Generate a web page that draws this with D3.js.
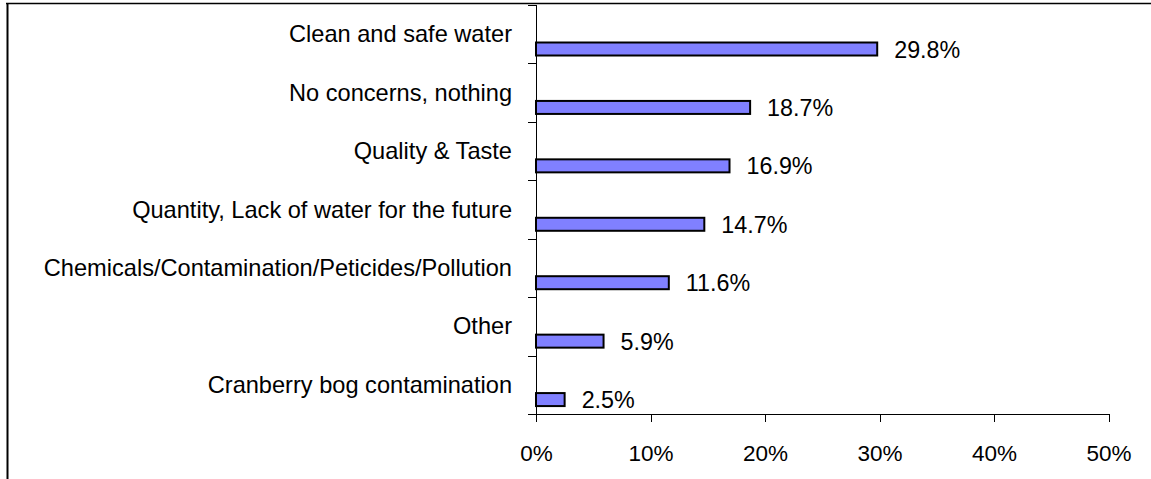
<!DOCTYPE html>
<html>
<head>
<meta charset="utf-8">
<script src="https://cdn.jsdelivr.net/npm/d3@7"></script>
<style>
  body { margin: 0; background: #fff; }
  svg { display: block; font-family: "Liberation Sans", Arial, sans-serif; }
  .axis path, .axis line { stroke: #000; shape-rendering: crispEdges; }
</style>
</head>
<body>
<svg id="chart"></svg>
<script>
var width = 1151,
    height = 479;

// data
var categories = [
  "Clean and safe water",
  "No concerns, nothing",
  "Quality & Taste",
  "Quantity, Lack of water for the future",
  "Chemicals/Contamination/Peticides/Pollution",
  "Other",
  "Cranberry bog contamination"
];
var values = [29.8, 18.7, 16.9, 14.7, 11.6, 5.9, 2.5];
var xTicks = [0, 10, 20, 30, 40, 50];

var plot = {left: 536, right: 1108.5, top: 5, bottom: 414};

var svg = d3.select("#chart")
    .attr("width", width)
    .attr("height", height);

svg.append("rect").attr("width", width).attr("height", height).attr("fill", "#fff");

// chart frame (only top and left edges are in view)
svg.append("line")
    .attr("x1", 6).attr("x2", width).attr("y1", 3.5).attr("y2", 3.5)
    .attr("stroke", "#000").attr("stroke-width", 1.5);
svg.append("line")
    .attr("x1", 7.5).attr("x2", 7.5).attr("y1", 3).attr("y2", height)
    .attr("stroke", "#000").attr("stroke-width", 2);

var x = d3.scaleLinear()
    .domain([0, 50])
    .range([plot.left, plot.right]);

var y = d3.scaleBand()
    .domain(categories)
    .range([plot.top, plot.bottom]);

var bw = y.bandwidth();

// y axis with ticks on the band boundaries
var yAxisG = svg.append("g").attr("class", "axis");
yAxisG.append("line")
    .attr("x1", plot.left).attr("x2", plot.left)
    .attr("y1", plot.top).attr("y2", plot.bottom + 8);
yAxisG.selectAll(".ytick")
    .data(d3.range(categories.length + 1))
    .enter().append("line")
    .attr("class", "ytick")
    .attr("x1", plot.left - 8).attr("x2", plot.left)
    .attr("y1", function(i) { return Math.round(plot.top + i * bw) + 0.5; })
    .attr("y2", function(i) { return Math.round(plot.top + i * bw) + 0.5; });

// x axis
var xAxis = d3.axisBottom(x)
    .tickValues(xTicks)
    .tickSize(8)
    .tickFormat(function(d) { return d + "%"; });

var xAxisG = svg.append("g")
    .attr("class", "axis")
    .attr("transform", "translate(0," + plot.bottom + ")")
    .call(xAxis);
xAxisG.select(".domain").attr("d", "M" + plot.left + ",0.5H" + plot.right);
xAxisG.selectAll(".tick line").attr("stroke", "#000");
xAxisG.selectAll(".tick text")
    .attr("y", 47)
    .attr("dy", null)
    .attr("fill", "#000")
    .style("font-size", "22.5px")
    .style("font-family", "'Liberation Sans', Arial, sans-serif");

// category labels
svg.selectAll(".cat")
    .data(categories)
    .enter().append("text")
    .attr("class", "cat")
    .attr("x", plot.left - 24)
    .attr("y", function(d) { return y(d) + bw / 2 + 8; })
    .attr("text-anchor", "end")
    .style("font-size", "23.6px")
    .text(function(d) { return d; });

// bars
svg.selectAll(".bar")
    .data(values)
    .enter().append("rect")
    .attr("class", "bar")
    .attr("x", x(0))
    .attr("y", function(d, i) { return y(categories[i]) + 37.5; })
    .attr("width", function(d) { return x(d) - x(0); })
    .attr("height", 13)
    .attr("fill", "#8080ff")
    .attr("stroke", "#000")
    .attr("stroke-width", 2);

// value labels
svg.selectAll(".val")
    .data(values)
    .enter().append("text")
    .attr("class", "val")
    .attr("x", function(d) { return x(d) + 17; })
    .attr("y", function(d, i) { return y(categories[i]) + 37.5 + 6.5 + 8.5; })
    .style("font-size", "23.3px")
    .text(function(d) { return d.toFixed(1) + "%"; });
</script>
</body>
</html>
